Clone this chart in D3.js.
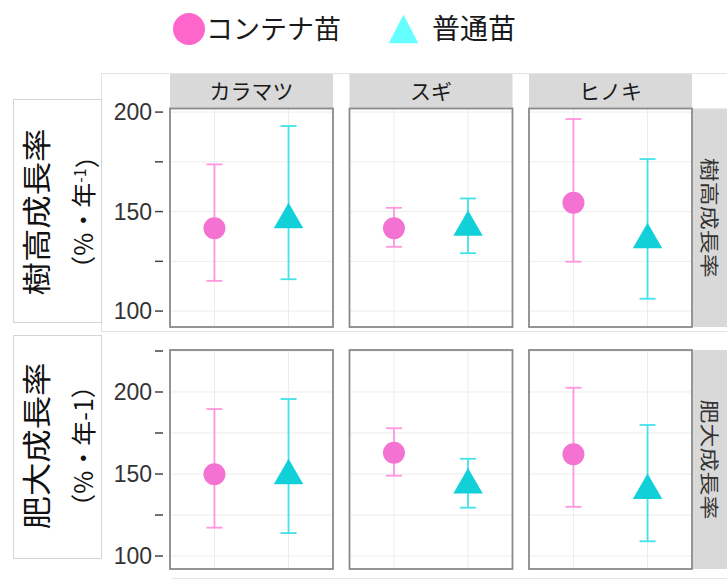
<!DOCTYPE html>
<html>
<head>
<meta charset="utf-8">
<script src="https://d3js.org/d3.v7.min.js"></script>
<style>
  body { margin: 0; background: #fff; }
  svg { display: block; }
</style>
</head>
<body>
<div id="chart"></div>
<script>
// data (growth rate, % per year)
var species = ["カラマツ", "スギ", "ヒノキ"];
var groups = ["コンテナ苗", "普通苗"];
var metrics = ["樹高成長率", "肥大成長率"];

// 樹高成長率
var heightContMean = [141.6, 141.6, 154.4];
var heightContLow  = [115.2, 132.3, 124.8];
var heightContHigh = [173.7, 151.9, 196.5];
var heightNormMean = [145.9, 142.1, 135.8];
var heightNormLow  = [116.0, 129.1, 106.2];
var heightNormHigh = [193.0, 156.6, 176.4];

// 肥大成長率
var diamContMean = [149.8, 163.0, 162.0];
var diamContLow  = [117.3, 149.0, 130.0];
var diamContHigh = [189.6, 177.9, 202.6];
var diamNormMean = [149.0, 143.3, 140.0];
var diamNormLow  = [114.0, 129.5, 109.0];
var diamNormHigh = [195.7, 159.3, 179.9];

var majorTicks = [100, 150, 200];
var minorTicks = [[125, 175], [125, 175, 225]];

var svgWidth = 727;
var svgHeight = 582;

var svg = d3.select("#chart")
  .append("svg")
  .attr("width", svgWidth)
  .attr("height", svgHeight);

var jp = "'Noto Sans CJK JP', 'Noto Sans', sans-serif";
var num = "'Liberation Sans', Arial, sans-serif";

var colors = { "コンテナ苗": "#f472d2", "普通苗": "#12d0d8" };
var barColors = { "コンテナ苗": "#ff96de", "普通苗": "#42e2ea" };

// build rows of the facet grid
var rows = [
  {
    metric: metrics[0],
    top: 108.5, bottom: 327,
    domain: [92, 201.8],
    minor: minorTicks[0],
    series: [
      { group: groups[0], mean: heightContMean, low: heightContLow, high: heightContHigh },
      { group: groups[1], mean: heightNormMean, low: heightNormLow, high: heightNormHigh }
    ]
  },
  {
    metric: metrics[1],
    top: 350, bottom: 569,
    domain: [92.1, 225.6],
    minor: minorTicks[1],
    series: [
      { group: groups[0], mean: diamContMean, low: diamContLow, high: diamContHigh },
      { group: groups[1], mean: diamNormMean, low: diamNormLow, high: diamNormHigh }
    ]
  }
];

// faint outlines of the pasted pieces
svg.append("rect")
  .attr("x", 101.5).attr("y", 73.5)
  .attr("width", 630).attr("height", 258)
  .attr("fill", "none").attr("stroke", "#e4e4e4");
svg.append("line")
  .attr("x1", 172).attr("x2", 727)
  .attr("y1", 578.5).attr("y2", 578.5)
  .attr("stroke", "#e4e4e4");

var panelX = d3.scaleBand()
  .domain(species)
  .range([170, 692])
  .paddingInner(0.092)
  .paddingOuter(0);
var panelW = panelX.bandwidth();

var xScale = d3.scalePoint()
  .domain(groups)
  .range([0, panelW])
  .padding(0.6);

// strips on top
species.forEach(function(sp) {
  var x0 = panelX(sp);
  svg.append("rect")
    .attr("x", x0).attr("y", 74)
    .attr("width", panelW).attr("height", 34.5)
    .attr("fill", "#d9d9d9");
  svg.append("text")
    .attr("x", x0 + panelW / 2)
    .attr("y", 91)
    .attr("dy", "0.36em")
    .attr("text-anchor", "middle")
    .style("font-family", jp)
    .style("font-size", "21px")
    .attr("fill", "#1a1a1a")
    .text(sp);
});

rows.forEach(function(row) {
  var yScale = d3.scaleLinear()
    .domain(row.domain)
    .range([row.bottom, row.top]);

  // y axis (left of first panel)
  var axisG = svg.append("g");
  majorTicks.forEach(function(t) {
    axisG.append("line")
      .attr("x1", 155).attr("x2", 163)
      .attr("y1", yScale(t)).attr("y2", yScale(t))
      .attr("stroke", "#444").attr("stroke-width", 1.5);
    axisG.append("text")
      .attr("x", 152)
      .attr("y", yScale(t))
      .attr("dy", "0.36em")
      .attr("text-anchor", "end")
      .style("font-family", num)
      .style("font-size", "23px")
      .attr("fill", "#333")
      .text(t);
  });
  row.minor.forEach(function(t) {
    axisG.append("line")
      .attr("x1", 155).attr("x2", 163)
      .attr("y1", yScale(t)).attr("y2", yScale(t))
      .attr("stroke", "#444").attr("stroke-width", 1.5);
  });

  species.forEach(function(sp, i) {
    var g = svg.append("g")
      .attr("transform", `translate(${panelX(sp)}, 0)`);

    g.append("rect")
      .attr("x", 0).attr("y", row.top)
      .attr("width", panelW).attr("height", row.bottom - row.top)
      .attr("fill", "#fff");

    // grid
    majorTicks.concat(row.minor).forEach(function(t) {
      var y = yScale(t);
      if (y < row.top || y > row.bottom) return;
      g.append("line")
        .attr("x1", 0).attr("x2", panelW)
        .attr("y1", y).attr("y2", y)
        .attr("stroke", "#ececec").attr("stroke-width", 1);
    });
    groups.forEach(function(gr) {
      g.append("line")
        .attr("x1", xScale(gr)).attr("x2", xScale(gr))
        .attr("y1", row.top).attr("y2", row.bottom)
        .attr("stroke", "#ececec").attr("stroke-width", 1);
    });

    // error bars
    row.series.forEach(function(s) {
      var cx = xScale(s.group);
      var c = barColors[s.group];
      g.append("line")
        .attr("x1", cx).attr("x2", cx)
        .attr("y1", yScale(s.low[i])).attr("y2", yScale(s.high[i]))
        .attr("stroke", c).attr("stroke-width", 1.8);
      [s.low[i], s.high[i]].forEach(function(v) {
        g.append("line")
          .attr("x1", cx - 8).attr("x2", cx + 8)
          .attr("y1", yScale(v)).attr("y2", yScale(v))
          .attr("stroke", c).attr("stroke-width", 1.8);
      });
    });

    // points
    row.series.forEach(function(s, k) {
      var sym = k === 0 ? d3.symbol().type(d3.symbolCircle).size(Math.PI * 11 * 11)
                        : d3.symbol().type(d3.symbolTriangle).size(376);
      g.append("path")
        .attr("d", sym())
        .attr("transform", `translate(${xScale(s.group)}, ${yScale(s.mean[i])})`)
        .attr("fill", colors[s.group]);
    });

    g.append("rect")
      .attr("x", 0).attr("y", row.top)
      .attr("width", panelW).attr("height", row.bottom - row.top)
      .attr("fill", "none")
      .attr("stroke", "#8a8a8a").attr("stroke-width", 1.8);
  });

  // right strip
  var midY = (row.top + row.bottom) / 2;
  svg.append("rect")
    .attr("x", 693).attr("y", row.top)
    .attr("width", 34).attr("height", row.bottom - row.top)
    .attr("fill", "#d9d9d9");
  svg.append("text")
    .attr("transform", `translate(709, ${midY}) rotate(90)`)
    .attr("text-anchor", "middle")
    .attr("dy", "0.36em")
    .attr("textLength", 120)
    .attr("lengthAdjust", "spacingAndGlyphs")
    .style("font-family", jp)
    .style("font-size", "19px")
    .attr("fill", "#333")
    .text(row.metric);
});

// y-axis title boxes
var titleBoxes = [
  { top: 99.5, bottom: 322.5, cy: 212, sup: true },
  { top: 335.5, bottom: 558.5, cy: 446, sup: false }
];
titleBoxes.forEach(function(b, i) {
  svg.append("rect")
    .attr("x", 13.5).attr("y", b.top)
    .attr("width", 88).attr("height", b.bottom - b.top)
    .attr("fill", "#fff")
    .attr("stroke", "#d4d4d4");

  svg.append("text")
    .attr("transform", `translate(38, ${b.cy}) rotate(-90)`)
    .attr("text-anchor", "middle")
    .attr("dy", "0.36em")
    .attr("textLength", 167)
    .attr("lengthAdjust", "spacingAndGlyphs")
    .style("font-family", jp)
    .style("font-size", "29px")
    .attr("fill", "#111")
    .text(metrics[i]);

  var t2 = svg.append("text")
    .attr("transform", `translate(84, ${b.cy}) rotate(-90)`)
    .attr("text-anchor", "middle")
    .attr("dy", "0.36em")
    .style("font-family", jp)
    .style("font-size", "25px")
    .attr("fill", "#111");
  t2.append("tspan").text("（%・年");
  if (b.sup) {
    t2.append("tspan")
      .attr("dy", "-0.45em")
      .style("font-size", "16px")
      .text("-1");
    t2.append("tspan").attr("dy", "0.45em").text("）");
  } else {
    t2.append("tspan").text("-1）");
  }
});

// legend
var legend = svg.append("g");
legend.append("path")
  .attr("d", d3.symbol().type(d3.symbolCircle).size(Math.PI * 16 * 16)())
  .attr("transform", "translate(189, 29)")
  .attr("fill", "#ff66cc");
legend.append("text")
  .attr("x", 206).attr("y", 29)
  .attr("dy", "0.36em")
  .style("font-family", jp)
  .style("font-size", "27px")
  .attr("fill", "#1a1a1a")
  .text(groups[0]);
legend.append("path")
  .attr("d", d3.symbol().type(d3.symbolTriangle).size(380)())
  .attr("transform", "translate(403.5, 33.7) scale(1, 1.115)")
  .attr("fill", "#66ffff");
legend.append("text")
  .attr("x", 432).attr("y", 29)
  .attr("dy", "0.36em")
  .style("font-family", jp)
  .style("font-size", "28px")
  .attr("fill", "#1a1a1a")
  .text(groups[1]);
</script>
</body>
</html>
